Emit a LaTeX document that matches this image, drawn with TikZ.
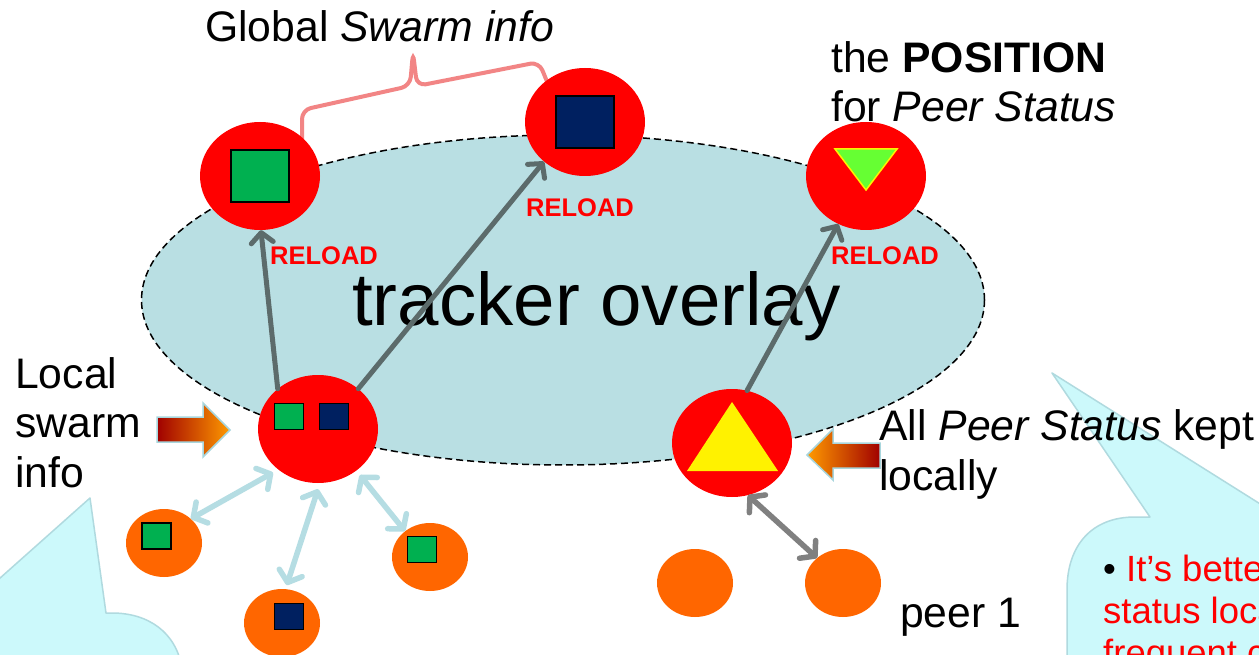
\documentclass[tikz,border=0pt]{standalone}
\usepackage{fontspec}
\setmainfont{Liberation Sans}
\usetikzlibrary{arrows.meta,shapes.geometric}
\definecolor{ovl}{HTML}{B9DFE3}
\definecolor{orng}{HTML}{FF6600}
\definecolor{sqgreen}{HTML}{00B050}
\definecolor{sqnavy}{HTML}{002060}
\definecolor{trigreen}{HTML}{66FF33}
\definecolor{slate}{HTML}{5C6B6B}
\definecolor{lblue}{HTML}{B5DDE3}
\definecolor{callfill}{HTML}{CCF9FB}
\definecolor{callline}{HTML}{B0DADF}
\definecolor{bracecol}{HTML}{F28585}
\definecolor{arrline}{HTML}{A8D6DD}
\definecolor{darkred}{HTML}{A00000}
\definecolor{warmorange}{HTML}{FF9A00}
\begin{document}
\begin{tikzpicture}[x=1pt,y=-1pt,
  redc/.style={ellipse, fill=red, minimum width=120pt, minimum height=108pt, inner sep=0pt},
  orc/.style={ellipse, fill=orng, minimum width=76pt, minimum height=68pt, inner sep=0pt},
  bigsq/.style={rectangle, draw=black, line width=1.5pt, inner sep=0pt, minimum width=58pt, minimum height=52pt, fill=#1},
  smsq/.style={rectangle, draw=black, line width=1.5pt, inner sep=0pt, minimum width=29pt, minimum height=26pt, fill=#1},
  lbl/.style={anchor=base west, inner sep=0pt, font=\fontsize{42.7}{50}\selectfont},
  reload/.style={anchor=base west, inner sep=0pt, text=red, font=\fontsize{25.5}{30}\selectfont\bfseries},
  grayarrow/.style={draw=slate, line width=5pt, line cap=round, -{Straight Barb[length=10pt,width=22pt,round]}},
  bluearrow/.style={draw=lblue, line width=5.5pt, {Straight Barb[length=10pt,width=24pt,round]}-{Straight Barb[length=10pt,width=24pt,round]}},
  grayarrow2/.style={draw=gray, line width=5.5pt, {Straight Barb[length=10pt,width=24pt,round]}-{Straight Barb[length=10pt,width=24pt,round]}},
  callout/.style={fill=callfill, draw=callline, line width=1.5pt, line join=round},
  blockarrow/.style={draw=arrline, line width=1.5pt, line join=miter},
  notetext/.style={anchor=base west, inner sep=0pt, text=red, font=\fontsize{36.5}{42}\selectfont}
]
\useasboundingbox (0,0) rectangle (1259,655);
\clip (0,0) rectangle (1259,655);
\fill[white] (0,0) rectangle (1259,655);

% callouts
\path[callout] (-10,587) -- (90,498) -- (106,613) -- (112,613)
  .. controls (148,613) and (176,632) .. (182,668) -- (182,700) -- (-10,700) -- cycle;
\path[callout] (1052,373) -- (1150,517) -- (1135,517)
  .. controls (1092,517) and (1067,545) .. (1067,590) -- (1067,700) -- (1300,700) -- (1300,529) -- cycle;

% tracker overlay
\node[ellipse, fill=ovl, draw=black, line width=1.5pt, dash pattern=on 7pt off 4pt,
      minimum width=843pt, minimum height=330pt, inner sep=0pt] (ov) at (563,300) {};
\node[anchor=base west, inner sep=0pt, font=\fontsize{74.5}{80}\selectfont] (tt) at (352,325) {tracker overlay};

% brace
\draw[bracecol, line width=4pt, rounded corners=9pt, line cap=round]
  (302,140) -- (302,110) -- (410,86) -- (413,52) -- (417,86) -- (539,62) -- (548,84);

% nodes
\node[redc] (A) at (260,176) {};
\node[redc] (B) at (585,122) {};
\node[redc] (C) at (866,176) {};
\node[redc] (D) at (318,429) {};
\node[redc] (E) at (732,443) {};
\node[orc] (P1) at (164,543) {};
\node[orc] (P2) at (282,623) {};
\node[orc] (P3) at (430,557) {};
\node[orc] (P4) at (695,583) {};
\node[orc] (P5) at (843,583) {};

\node[bigsq=sqgreen] (sqA) at (260,176) {};
\node[bigsq=sqnavy] (sqB) at (585,122) {};
\node[smsq=sqgreen] (sqD1) at (289,416.5) {};
\node[smsq=sqnavy] (sqD2) at (334,416.5) {};
\node[smsq=sqgreen] (sqP1) at (156.5,536) {};
\node[smsq=sqnavy] (sqP2) at (289,616.5) {};
\node[smsq=sqgreen] (sqP3) at (422,549.5) {};

\filldraw[fill=trigreen, draw=yellow, line width=1.5pt, line join=miter] (835,149) -- (897,149) -- (866,190) -- cycle;
\fill[yellow] (732,402) -- (778,471) -- (687,471) -- cycle;

% connectors
\draw[grayarrow] (D.135) -- (A.271);
\draw[grayarrow] (D.45) -- (B.224);
\draw[grayarrow] (E.74) -- (C.240);
\draw[bluearrow] ([shift={(-4,4)}]D.224) -- (P1.42);
\draw[bluearrow] ([shift={(0,6)}]D.270) -- ([shift={(0,-4)}]P2.82);
\draw[bluearrow] ([shift={(4,4)}]D.312) -- (P3.134);
\draw[grayarrow2] (E.287) -- (P5.136);

% RELOAD labels
\node[reload] (r1) at (270,265) {RELOAD};
\node[reload] (r2) at (526,217) {RELOAD};
\node[reload] (r3) at (831,265) {RELOAD};

% block arrows
\shade[left color=darkred, middle color=red!85!orange, right color=warmorange]
  (157,417) -- (203,417) -- (203,403) -- (230,430) -- (203,457) -- (203,442) -- (157,442) -- cycle;
\draw[blockarrow] (157,417) -- (203,417) -- (203,403) -- (230,430) -- (203,457) -- (203,442) -- (157,442) -- cycle;
\shade[right color=darkred, middle color=red!85!orange, left color=warmorange]
  (880,443) -- (833,443) -- (833,429) -- (807,455) -- (833,480) -- (833,468) -- (880,468) -- cycle;
\draw[blockarrow] (880,443) -- (833,443) -- (833,429) -- (807,455) -- (833,480) -- (833,468) -- (880,468) -- cycle;

% labels
\node[lbl] (g) at (205,42) {Global \textit{Swarm info}};
\node[lbl] (pos1) at (831,73) {the \textbf{POSITION}};
\node[lbl] (pos2) at (831,122) {for \textit{Peer Status}};
\node[lbl] (loc1) at (15,388) {Local};
\node[lbl] (loc2) at (15,437) {swarm};
\node[lbl] (loc3) at (15,487) {info};
\node[lbl] (all1) at (879,440) {All \textit{Peer Status} kept};
\node[lbl] (all2) at (879,490) {locally};
\node[lbl] (peer) at (900,627) {peer 1};

% callout text
\node[notetext] (n1) at (1103,581) {\textcolor{black}{•} It’s better to keep};
\node[notetext] (n2) at (1103,623) {status locally to avoid};
\node[notetext] (n3) at (1103,665) {frequent changes};
\end{tikzpicture}
\end{document}
